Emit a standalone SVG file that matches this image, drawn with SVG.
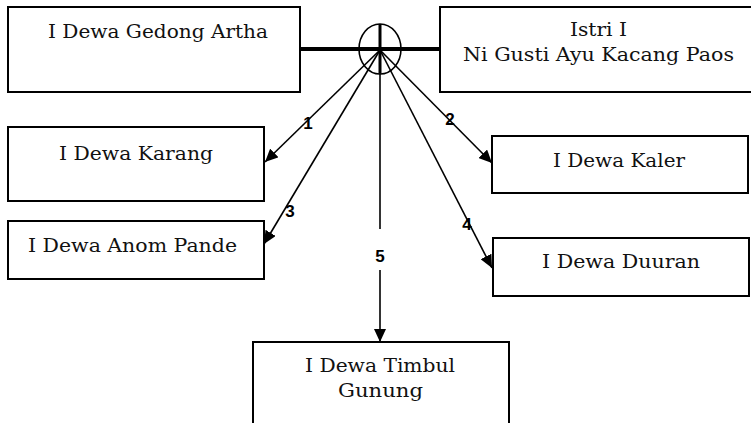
<svg xmlns="http://www.w3.org/2000/svg" width="751" height="423" viewBox="0 0 751 423">
<style>
.box{fill:#fff;stroke:#000;stroke-width:2}
.t{font-family:"DejaVu Serif","Liberation Serif",serif;font-size:19px;fill:#111}
.num{font-family:"Liberation Sans",Arial,sans-serif;font-size:17px;font-weight:bold;fill:#000;text-anchor:middle}
.c{fill:none;stroke:#000;stroke-width:1.6}
</style>
<defs>
<marker id="ah" markerUnits="userSpaceOnUse" markerWidth="14" markerHeight="12" refX="13" refY="6" orient="auto">
<path d="M0,0 L13,6 L0,12 Z" fill="#000"/>
</marker>
</defs>
<rect width="751" height="423" fill="#fff"/>
<g id="gedong"><rect class="box" x="8" y="7" width="292" height="85"/><text class="t" x="48" y="38" textLength="220" lengthAdjust="spacingAndGlyphs">I Dewa Gedong Artha</text></g>
<g id="istri"><rect class="box" x="440" y="7" width="320" height="85"/><text class="t" x="570" y="36" textLength="57" lengthAdjust="spacingAndGlyphs">Istri I</text><text class="t" x="463" y="61" textLength="271" lengthAdjust="spacingAndGlyphs">Ni Gusti Ayu Kacang Paos</text></g>
<g id="karang"><rect class="box" x="8" y="127" width="256" height="74"/><text class="t" x="59" y="160" textLength="154" lengthAdjust="spacingAndGlyphs">I Dewa Karang</text></g>
<g id="anom"><rect class="box" x="8" y="221" width="256" height="58"/><text class="t" x="28" y="252" textLength="209" lengthAdjust="spacingAndGlyphs">I Dewa Anom Pande</text></g>
<g id="kaler"><rect class="box" x="492" y="136" width="256" height="57"/><text class="t" x="553" y="167" textLength="132" lengthAdjust="spacingAndGlyphs">I Dewa Kaler</text></g>
<g id="duuran"><rect class="box" x="493" y="238" width="256" height="58"/><text class="t" x="542" y="268" textLength="158" lengthAdjust="spacingAndGlyphs">I Dewa Duuran</text></g>
<g id="timbul"><rect class="box" x="253" y="342" width="256" height="100"/><text class="t" x="305" y="372" textLength="150" lengthAdjust="spacingAndGlyphs">I Dewa Timbul</text><text class="t" x="338" y="397" textLength="85" lengthAdjust="spacingAndGlyphs">Gunung</text></g>
<g id="marriage"><line x1="300" y1="49" x2="440" y2="49" stroke="#000" stroke-width="4"/><ellipse cx="380" cy="49" rx="21" ry="25" fill="none" stroke="#000" stroke-width="1.6"/><line x1="380" y1="24" x2="380" y2="73" stroke="#000" stroke-width="3"/></g>
<g id="connectors">
<line class="c" x1="380" y1="50" x2="265" y2="162" marker-end="url(#ah)"/>
<line class="c" x1="380" y1="50" x2="492" y2="163" marker-end="url(#ah)"/>
<line class="c" x1="380" y1="50" x2="264" y2="244" marker-end="url(#ah)"/>
<line class="c" x1="380" y1="50" x2="492" y2="268" marker-end="url(#ah)"/>
<line class="c" x1="380" y1="50" x2="380" y2="229"/>
<line class="c" x1="380" y1="270" x2="380" y2="342" marker-end="url(#ah)"/>
<text class="num" x="308" y="129">1</text>
<text class="num" x="450" y="125">2</text>
<text class="num" x="290" y="217">3</text>
<text class="num" x="467" y="230">4</text>
<text class="num" x="380" y="262">5</text>
</g>
</svg>
